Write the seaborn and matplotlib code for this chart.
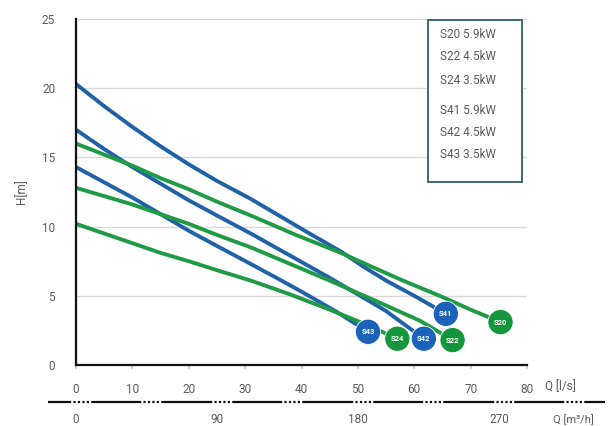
import numpy as np
import pandas as pd
import matplotlib
matplotlib.use("Agg")
import matplotlib.pyplot as plt
from matplotlib.patches import Rectangle
import seaborn as sns

# pump curves, Q in l/s, H in m
q_s41 = [0, 5, 10, 15, 20, 25, 31, 36, 41, 47, 51, 55, 60, 65.6]
h_s41 = [20.3, 18.7, 17.2, 15.8, 14.5, 13.3, 12.0, 10.8, 9.6, 8.2, 7.1, 6.1, 5.0, 3.7]
q_s42 = [0, 5, 10, 15, 20, 25, 31, 38, 45, 50, 55, 61.7]
h_s42 = [17.0, 15.6, 14.3, 13.1, 11.9, 10.8, 9.5, 7.9, 6.3, 5.1, 3.9, 1.9]
q_s43 = [0, 5, 10, 15, 20, 25, 31, 36, 40, 46, 51.8]
h_s43 = [14.3, 13.2, 12.1, 10.9, 9.7, 8.6, 7.3, 6.2, 5.3, 3.9, 2.4]
q_s20 = [0, 5, 10, 15, 20, 25, 31, 39, 47, 53, 58, 64.5, 70, 75.3]
h_s20 = [16.0, 15.2, 14.4, 13.5, 12.7, 11.8, 10.8, 9.4, 8.1, 7.0, 6.1, 5.0, 4.0, 3.1]
q_s22 = [0, 5, 10, 15, 20, 25, 31, 38, 45, 50, 55, 61, 66.8]
h_s22 = [12.8, 12.2, 11.6, 10.9, 10.2, 9.4, 8.5, 7.3, 6.1, 5.2, 4.3, 3.2, 1.8]
q_s24 = [0, 5, 10, 15, 20, 25, 31, 38, 45, 51, 57]
h_s24 = [10.2, 9.5, 8.8, 8.1, 7.5, 6.85, 6.1, 5.1, 4.0, 3.0, 1.9]

models = ["S41", "S42", "S43", "S20", "S22", "S24"]
legend_rows = ["S20 5.9kW", "S22 4.5kW", "S24 3.5kW", "S41 5.9kW", "S42 4.5kW", "S43 3.5kW"]

y_ticks = [0, 5, 10, 15, 20, 25]
x_ticks = [0, 10, 20, 30, 40, 50, 60, 70, 80]
m3h_ticks = [0, 90, 180, 270]

BLUE = "#1f62a8"
GREEN = "#1f9a45"
BLUE_DOT = "#1a63b8"
GREEN_DOT = "#16963c"
GREY = "#5a5a5a"

curves = {
    "S41": (q_s41, h_s41), "S42": (q_s42, h_s42), "S43": (q_s43, h_s43),
    "S20": (q_s20, h_s20), "S22": (q_s22, h_s22), "S24": (q_s24, h_s24),
}
rows = []
for m in models:
    q, h = curves[m]
    for a, b in zip(q, h):
        rows.append({"model": m, "Q": a, "H": b})
df = pd.DataFrame(rows)
ends = df.groupby("model", sort=False).tail(1).reset_index(drop=True)

line_pal = {m: (BLUE if m.startswith("S4") else GREEN) for m in models}
dot_pal = {m: (BLUE_DOT if m.startswith("S4") else GREEN_DOT) for m in models}

sns.set_theme(style="white")
plt.rcParams["font.family"] = ["Roboto", "DejaVu Sans"]
FS = 8.5

W, H = 611, 426
fig = plt.figure(figsize=(W / 100, H / 100), dpi=100)
ax = fig.add_axes([76 / W, 1 - 365 / H, (527 - 76) / W, (365 - 19) / H])

sns.lineplot(data=df, x="Q", y="H", hue="model", palette=line_pal, sort=False,
             units="model", estimator=None, lw=2.8, legend=False, ax=ax,
             solid_capstyle="round", solid_joinstyle="round")
sns.scatterplot(data=ends, x="Q", y="H", hue="model", palette=dot_pal, s=330,
                edgecolor="white", linewidth=0.6, legend=False, ax=ax, zorder=5)
for _, r in ends.iterrows():
    ax.text(r["Q"], r["H"], r["model"], color="white", fontsize=5.5,
            fontweight="bold", ha="center", va="center", zorder=6)

ax.set_xlim(0, 80)
ax.set_ylim(0, 25)
ax.set_xticks(x_ticks)
ax.set_yticks(y_ticks)
ax.yaxis.grid(True, color="#d8d8d8", lw=1)
ax.xaxis.grid(False)
for s in ["top", "right"]:
    ax.spines[s].set_visible(False)
for s in ["left", "bottom"]:
    ax.spines[s].set_color("#111111")
    ax.spines[s].set_linewidth(1.6)
ax.tick_params(axis="x", length=3, color="#cccccc", pad=10, labelsize=FS,
               labelcolor=GREY, bottom=True)
ax.tick_params(axis="y", length=0, pad=15, labelsize=FS, labelcolor=GREY)
ax.set_xlabel("")
ax.set_ylabel("H[m]", color=GREY, fontsize=FS, labelpad=10)
ax.text(545 / W, 1 - 387 / H, "Q [l/s]", transform=fig.transFigure, color=GREY,
        fontsize=FS, ha="left", va="center")

# legend box, plain text only
ax.add_patch(Rectangle((428 / W, 1 - 182 / H), (522 - 428) / W, (182 - 20) / H,
                       transform=fig.transFigure, fill=True, facecolor="white",
                       edgecolor="#2f5d6b", lw=1.3, zorder=4))
row_y = [35, 57, 80, 110, 132, 154]
for lab, yy in zip(legend_rows, row_y):
    fig.text(440 / W, 1 - yy / H, lab, color=GREY, fontsize=FS,
             ha="left", va="center", zorder=7)

# second flow scale in m3/h underneath
px_per_m3h = (527 - 76) / (80 * 3.6)
left_px, right_px = 48, 605
ax2 = fig.add_axes([left_px / W, 1 - 410 / H, (right_px - left_px) / W, 16 / H])
ax2.set_xlim(-(76 - left_px) / px_per_m3h, (right_px - 76) / px_per_m3h)
ax2.set_ylim(-1, 1)
ax2.axis("off")
half = 7.5
marks = np.arange(0, 320, 45) + 3
solid_start = ax2.get_xlim()[0]
for c in marks:
    ax2.plot([solid_start, c - half], [0, 0], color="#111111", lw=1.6,
             solid_capstyle="butt")
    ax2.plot([c - half, c + half], [0, 0], color="#111111", lw=1.6,
             ls=(0, (1, 1)))
    solid_start = c + half
ax2.plot([solid_start, ax2.get_xlim()[1]], [0, 0], color="#111111", lw=1.6)
for t in m3h_ticks:
    ax2.text(t, -2.2, str(t), color=GREY, fontsize=FS, ha="center", va="center",
             clip_on=False)
fig.text(553 / W, 1 - 420 / H, "Q [m³/h]", color=GREY, fontsize=FS - 0.5,
         ha="left", va="center")

fig.savefig("out.png", dpi=100)
